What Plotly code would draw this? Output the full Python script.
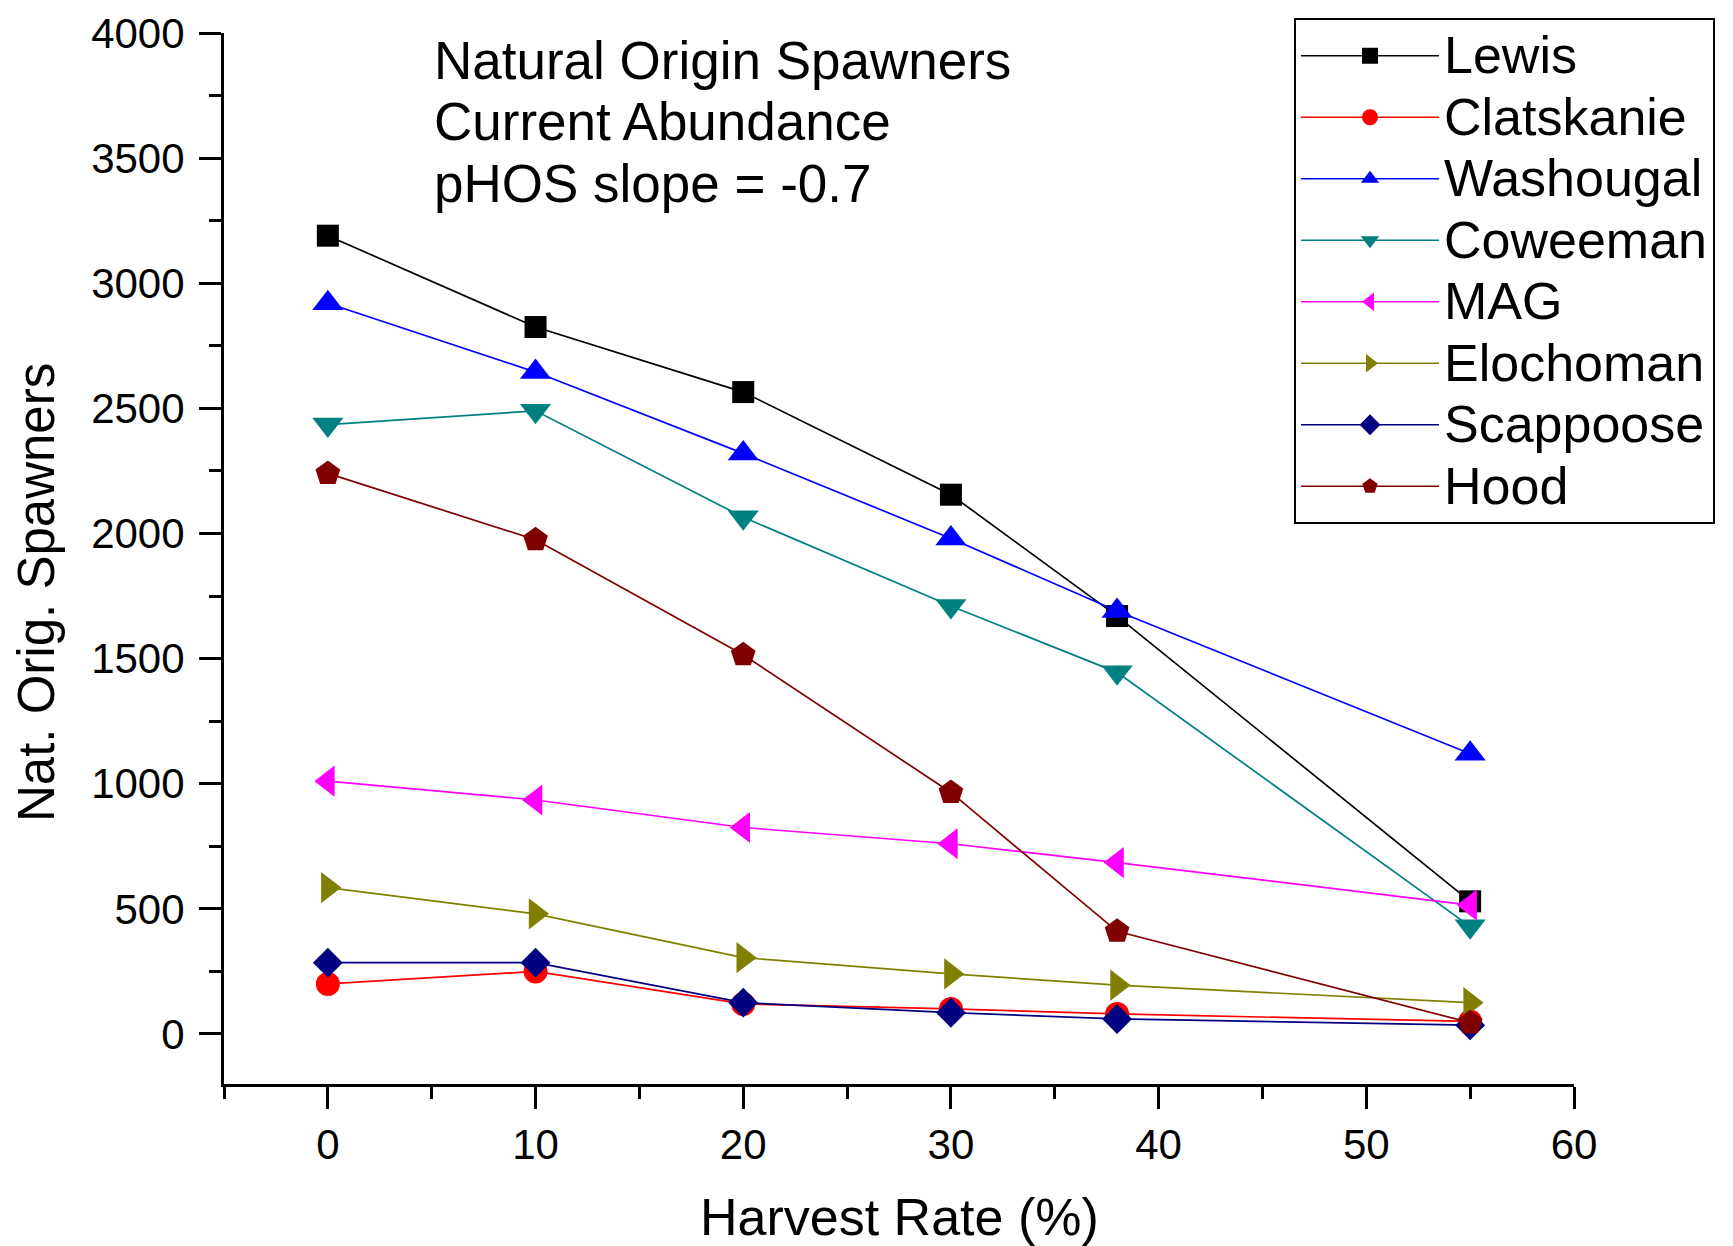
import plotly.graph_objects as go

harvest_rate = [0, 10, 20, 30, 38, 55]

series_names = ["Lewis", "Clatskanie", "Washougal", "Coweeman", "MAG", "Elochoman", "Scappoose", "Hood"]
lewis = [3190, 2825, 2565, 2155, 1670, 530]
clatskanie = [200, 250, 120, 100, 80, 50]
washougal = [2920, 2645, 2320, 1980, 1690, 1120]
coweeman = [2435, 2490, 2065, 1710, 1445, 430]
mag = [1010, 935, 825, 760, 685, 515]
elochoman = [585, 480, 305, 240, 195, 125]
scappoose = [285, 285, 125, 85, 60, 35]
hood = [2240, 1975, 1515, 965, 410, 45]

series_values = [lewis, clatskanie, washougal, coweeman, mag, elochoman, scappoose, hood]
colors = ["#000000", "#FF0000", "#0000FF", "#008080", "#FF00FF", "#808000", "#000080", "#800000"]
symbols = ["square", "circle", "triangle-up", "triangle-down", "triangle-left", "triangle-right", "diamond", "pentagon"]
sizes = [22, 24, 27, 27, 27, 27, 23, 26]

x_ticks = [0, 10, 20, 30, 40, 50, 60]
y_ticks = [0, 500, 1000, 1500, 2000, 2500, 3000, 3500, 4000]

FONT = "Arial, Liberation Sans, sans-serif"

# plot-area geometry (pixels)
L, R, T, B = 216, 167, 25, 170
W, H = 1733, 1246
plot_w = W - L - R
plot_h = H - T - B

fig = go.Figure()
for name, vals, col, sym, sz in zip(series_names, series_values, colors, symbols, sizes):
    fig.add_trace(go.Scatter(
        x=harvest_rate, y=vals,
        name='<span style="font-size:52px">' + name + '</span>',
        mode="lines+markers",
        line=dict(color=col, width=1.7),
        marker=dict(symbol=sym, size=sz, color=col, line=dict(width=0)),
    ))

axis_common = dict(
    showline=True, linecolor="black", linewidth=3, mirror=False,
    showgrid=False, zeroline=False, automargin=False,
    ticks="outside", ticklen=22, tickwidth=3, tickcolor="black",
    tickfont=dict(family=FONT, size=42, color="black"),
)

fig.update_xaxes(
    range=[-5, 60], tickmode="array", tickvals=x_ticks, ticktext=[str(v) for v in x_ticks],
    minor=dict(ticks="outside", ticklen=12, tickwidth=3, tickcolor="black", dtick=5, tick0=0),
    **axis_common,
)
fig.update_yaxes(
    range=[-200, 4000], tickmode="array", tickvals=y_ticks, ticktext=[str(v) for v in y_ticks],
    minor=dict(ticks="outside", ticklen=12, tickwidth=3, tickcolor="black", dtick=250, tick0=0),
    ticklabelstandoff=6,
    **axis_common,
)

annotations = [
    dict(text="Harvest Rate (%)", xref="paper", yref="paper", x=0.5,
         y=-(1209 - (H - B)) / plot_h,
         xanchor="center", yanchor="middle", showarrow=False,
         font=dict(family=FONT, size=52, color="black")),
    dict(text="Nat. Orig. Spawners", xref="paper", yref="paper",
         x=-(L - 28) / plot_w, y=((H - B) - 585) / plot_h,
         xanchor="center", yanchor="middle", textangle=-90, showarrow=False,
         font=dict(family=FONT, size=51, color="black")),
]
info_lines = ["Natural Origin Spawners", "Current Abundance", "pHOS slope = -0.7"]
info_y = [3892, 3647, 3400]
for txt, yy in zip(info_lines, info_y):
    annotations.append(dict(text=txt, xref="x", yref="y", x=0, y=yy, xshift=104,
                            xanchor="left", yanchor="middle", showarrow=False,
                            font=dict(family=FONT, size=53, color="black")))

fig.update_layout(
    width=W, height=H,
    margin=dict(l=L, r=R, t=T, b=B, autoexpand=False),
    plot_bgcolor="white", paper_bgcolor="white",
    showlegend=True,
    legend=dict(x=(1286 - L) / plot_w, y=((H - B) - 10) / plot_h, xanchor="left", yanchor="top",
                bordercolor="black", borderwidth=2, bgcolor="white",
                font=dict(family=FONT, size=45, color="black"),
                itemwidth=138, tracegroupgap=0),
    annotations=annotations,
)

fig.write_html("out.html")
